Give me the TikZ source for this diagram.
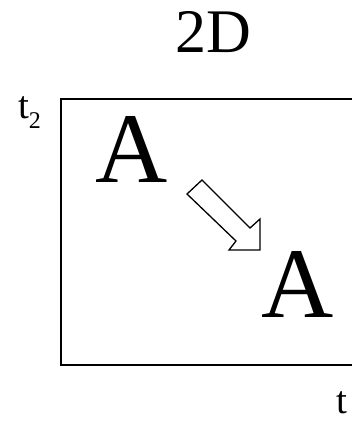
\documentclass[tikz,border=0pt]{standalone}
\usepackage{fontspec}
\setmainfont{Liberation Serif}
\usepackage{tikz}
\usetikzlibrary{positioning,calc}

\begin{document}
\begin{tikzpicture}[x=1pt, y=-1pt, line join=miter]
  \tikzstyle{lbl}=[inner sep=0pt, outer sep=0pt]
  \tikzstyle{axislbl}=[lbl, anchor=base west, font=\fontsize{39}{39}\selectfont]
  \tikzstyle{letter}=[lbl, anchor=base, font=\fontsize{100}{100}\selectfont]
  \tikzstyle{blockarrow}=[draw, line width=1.3pt, fill=white]

  \useasboundingbox (0,0) rectangle (351,422);

  \node[lbl, anchor=base, font=\fontsize{62}{62}\selectfont] (title) at (213.5,53) {2D};

  % frame, right side runs past the page
  \coordinate (fnw) at (61,99);
  \coordinate (fse) at (362,365);
  \draw[line width=1.5pt] (fnw) rectangle (fse);

  \node[axislbl] (ty) at (18,119)
    {t\raisebox{-10pt}{\fontsize{24}{24}\selectfont 2}};
  \node[axislbl] (tx) at (336,413) {t};

  \node[letter] (a1) at (132,182) {A};
  \node[letter] (a2) at (297.5,317) {A};

  % hollow arrow between the two letters
  \draw[blockarrow] (202,180) -- (250,228) -- (260,219) -- (260,250) -- (229,250)
    -- (236,241) -- (187,194) -- cycle;
\end{tikzpicture}
\end{document}
